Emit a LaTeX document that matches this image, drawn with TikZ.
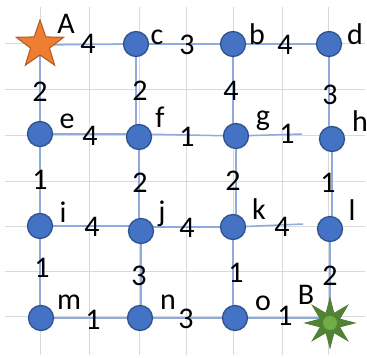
\documentclass[tikz,border=0pt]{standalone}
\usepackage{fontspec}
\setmainfont{Carlito}
\usetikzlibrary{shapes.geometric,backgrounds}
\definecolor{gridc}{HTML}{D9D9D9}
\definecolor{edgec}{HTML}{8FAADC}
\definecolor{nodefill}{HTML}{4472C4}
\definecolor{nodedraw}{HTML}{2F528F}
\definecolor{orfill}{HTML}{ED7D31}
\definecolor{ordraw}{HTML}{AE5A21}
\definecolor{grfill}{HTML}{548235}
\definecolor{grdraw}{HTML}{507E32}
\definecolor{grin}{HTML}{70AD47}
\begin{document}
\begin{tikzpicture}[x=1pt,y=-1pt,
  vert/.style={circle,fill=nodefill,draw=nodedraw,line width=1.3pt,minimum size=25pt,inner sep=0pt},
  lbl/.style={inner sep=0pt,font=\fontsize{30}{32}\selectfont},
  edge/.style={draw=edgec,line width=1.5pt},
  gridline/.style={draw=gridc,line width=0.9pt}]
\useasboundingbox (0,0) rectangle (367,358);
% nodes
\node[star,star points=5,star point ratio=2.5,minimum size=50pt,inner sep=0pt,fill=orfill,draw=ordraw,line width=1pt] (A) at (40,45) {};
\node[vert] (c) at (136,44) {};
\node[vert] (b) at (233,44) {};
\node[vert] (d) at (329,44) {};
\node[vert] (e) at (40,134) {};
\node[vert] (f) at (139,137) {};
\node[vert] (g) at (236,136) {};
\node[vert] (h) at (332,139) {};
\node[vert] (i) at (40,226) {};
\node[vert] (j) at (141,231) {};
\node[vert] (k) at (233,227) {};
\node[vert] (l) at (330,229) {};
\node[vert] (m) at (41,318) {};
\node[vert] (n) at (140,318) {};
\node[vert] (o) at (235,318) {};
\node[star,star points=8,star point ratio=2.4,minimum size=50pt,inner sep=0pt,fill=grfill,draw=grdraw,line width=0.8pt] (B) at (330,323) {};
\node[circle,fill=grin,minimum size=14pt,inner sep=0pt] (Bc) at (B.center) {};
\coordinate (gh) at (302,134);
\coordinate (kl) at (303,224);
% grid and edges
\begin{scope}[on background layer]
\foreach \y in {43,89,135,181,226,271,316} \draw[gridline] (5,\y) -- (365,\y);
\foreach \x in {40,89,139,186,233,282,328} \draw[gridline] (\x,7) -- (\x,355);
\draw[edge] (A.center) -- (c.center);
\draw[edge] (c.center) -- (b.center);
\draw[edge] (b.center) -- (d.center);
\draw[edge] (A.center) -- (A.center |- e.center);
\draw[edge] (c.center) -- (c.center |- f.center);
\draw[edge] (b.center) -- (b.center |- g.center);
\draw[edge] (d.center) -- (d.center |- h.center);
\draw[edge] (e.center) -- (e.center -| f.center);
\draw[edge] (f.center) ++(0,-3) -- (g.center);
\draw[edge] (g.center) -- (gh);
\draw[edge] (e.center) -- (e.center |- i.center);
\draw[edge] (f.center) -- (f.center |- j.center);
\draw[edge] (g.center) -- (g.center |- k.center);
\draw[edge] (h.center) -- (h.center |- l.center);
\draw[edge] (i.center) -- (i.center -| j.center);
\draw[edge] (j.center) ++(0,-4) -- (k.center);
\draw[edge] (k.center) -- (kl);
\draw[edge] (i.center) -- (i.center |- m.center);
\draw[edge] (j.center) -- (j.center |- n.center);
\draw[edge] (k.center) -- (k.center |- o.center);
\draw[edge] (l.center) -- (l.center |- B.center);
\draw[edge] (m.center) -- (m.center -| n.center);
\draw[edge] (n.center) -- (n.center -| o.center);
\draw[edge] (o.center) -- (o.center -| B.center);
\end{scope}
% vertex names
\node[lbl] (tA) at (66,24) {A};
\node[lbl] (tc) at (157,37) {c};
\node[lbl] (tb) at (257,34) {b};
\node[lbl] (td) at (355,34) {d};
\node[lbl] (te) at (67,121) {e};
\node[lbl] (tf) at (160,117) {f};
\node[lbl] (tg) at (263,121) {g};
\node[lbl] (th) at (360,121) {h};
\node[lbl] (ti) at (63,212) {i};
\node[lbl] (tj) at (162,214) {j};
\node[lbl] (tk) at (259,209) {k};
\node[lbl] (tl) at (352,210) {l};
\node[lbl] (tm) at (69,302) {m};
\node[lbl] (tn) at (168,302) {n};
\node[lbl] (to) at (263,303) {o};
\node[lbl] (tB) at (306,295) {B};
% weights
\node[lbl] (w1) at (88,44) {4};
\node[lbl] (w2) at (187,45) {3};
\node[lbl] (w3) at (285,45) {4};
\node[lbl] (w4) at (40,92) {2};
\node[lbl] (w5) at (140,91) {2};
\node[lbl] (w6) at (231,91) {4};
\node[lbl] (w7) at (330,95) {3};
\node[lbl] (w8) at (90,136) {4};
\node[lbl] (w9) at (187,137) {1};
\node[lbl] (w10) at (287,134) {1};
\node[lbl] (w11) at (40,180) {1};
\node[lbl] (w12) at (140,183) {2};
\node[lbl] (w13) at (233,181) {2};
\node[lbl] (w14) at (328,183) {1};
\node[lbl] (w15) at (92,227) {4};
\node[lbl] (w16) at (187,228) {4};
\node[lbl] (w17) at (282,227) {4};
\node[lbl] (w18) at (42,268) {1};
\node[lbl] (w19) at (139,276) {3};
\node[lbl] (w20) at (236,273) {1};
\node[lbl] (w21) at (330,276) {2};
\node[lbl] (w22) at (93,320) {1};
\node[lbl] (w23) at (186,319) {3};
\node[lbl] (w24) at (285,316) {1};
\end{tikzpicture}
\end{document}
